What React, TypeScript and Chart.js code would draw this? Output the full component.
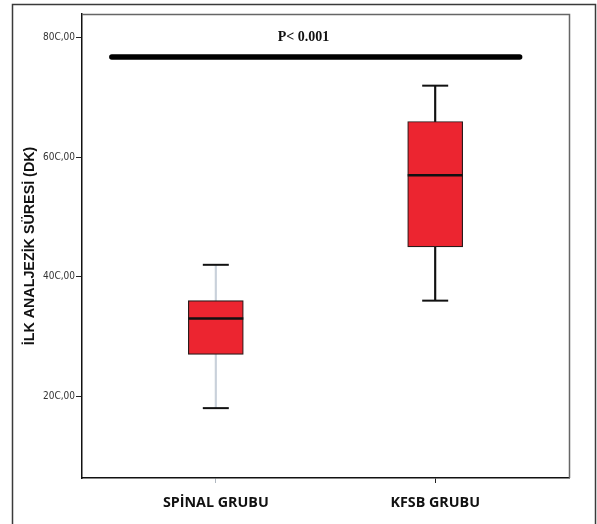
import React, { useEffect, useRef } from "react";
import { Chart, registerables } from "chart.js";

Chart.register(...registerables);

const CATEGORIES = ["SPİNAL GRUBU", "KFSB GRUBU"];
const GROUP_X = [1, 2];
const MIN = [18, 36];
const Q1 = [27, 45];
const MEDIAN = [33, 57];
const Q3 = [36, 66];
const MAX = [42, 72];
const Y_TICKS = [20, 40, 60, 80];
const Y_TICK_LABELS = ["20C,00", "40C,00", "60C,00", "80C,00"];
const Y_TITLE = "İLK ANALJEZİK SÜRESİ (DK)";
const SIG_X = [0.526, 2.385];
const SIG_Y = 76.8;
const SIG_LABEL = "P< 0.001";
const SIG_LABEL_POS = [1.4, 80];
const WHISKER_COLORS = ["#c9d1da", "#111111"];
const X_TICK_COLORS = ["#b0b8c0", "#222222"];

const framePlugin = {
  id: "frames",
  beforeDraw(chart: any) {
    const ctx = chart.ctx;
    ctx.save();
    ctx.strokeStyle = "#3a3a3a";
    ctx.lineWidth = 1.5;
    ctx.strokeRect(12.5, 4.5, 583, 540);
    ctx.restore();
  },
  afterDatasetsDraw(chart: any) {
    const ctx = chart.ctx;
    const { left, right, top, bottom } = chart.chartArea;
    ctx.save();
    ctx.strokeStyle = "#666";
    ctx.lineWidth = 1.5;
    ctx.beginPath();
    ctx.moveTo(left, top + 0.5);
    ctx.lineTo(right + 0.5, top + 0.5);
    ctx.lineTo(right + 0.5, bottom);
    ctx.stroke();
    const xs = chart.scales.x;
    const ys = chart.scales.y;
    ctx.fillStyle = "#111";
    ctx.font = "bold 14px 'Liberation Serif', serif";
    ctx.textAlign = "center";
    ctx.textBaseline = "middle";
    ctx.fillText(
      SIG_LABEL,
      xs.getPixelForValue(SIG_LABEL_POS[0]),
      ys.getPixelForValue(SIG_LABEL_POS[1])
    );
    ctx.restore();
  },
};

export default function App() {
  const ref = useRef<HTMLCanvasElement>(null);
  useEffect(() => {
    if (!ref.current) return;
    const chart = new Chart(ref.current, {
      type: "bar",
      data: {
        datasets: [
          {
            type: "bar",
            data: GROUP_X.map((x, i) => ({ x, y: [MIN[i], MAX[i]] })) as any,
            backgroundColor: WHISKER_COLORS,
            borderWidth: 0,
            barThickness: 1.5,
            grouped: false,
            order: 10,
          } as any,
          {
            type: "bar",
            data: GROUP_X.map((x, i) => ({ x, y: [Q1[i], Q3[i]] })) as any,
            backgroundColor: "#ec2530",
            borderColor: "#2a1a1a",
            borderWidth: 1.2,
            borderSkipped: false,
            barThickness: 55,
            grouped: false,
            order: 5,
          } as any,
          {
            type: "scatter",
            data: GROUP_X.map((x, i) => ({ x, y: MEDIAN[i] })),
            pointStyle: "line",
            pointRadius: 27.5,
            pointHoverRadius: 27.5,
            borderColor: "#111",
            borderWidth: 2.5,
            order: 1,
          } as any,
          {
            type: "scatter",
            data: [
              ...GROUP_X.map((x, i) => ({ x, y: MIN[i] })),
              ...GROUP_X.map((x, i) => ({ x, y: MAX[i] })),
            ],
            pointStyle: "line",
            pointRadius: 13,
            pointHoverRadius: 13,
            borderColor: "#111",
            borderWidth: 2,
            order: 1,
          } as any,
          {
            type: "line",
            data: SIG_X.map((x) => ({ x, y: SIG_Y })),
            borderColor: "#000",
            borderWidth: 5.5,
            borderCapStyle: "round",
            pointRadius: 0,
            order: 1,
          } as any,
        ],
      },
      options: {
        animation: false,
        responsive: false,
        events: [],
        layout: { autoPadding: false, padding: { top: 14, right: 28, left: 0, bottom: 0 } },
        plugins: { legend: { display: false }, tooltip: { enabled: false } },
        scales: {
          x: {
            type: "linear",
            min: 0.39,
            max: 2.61,
            offset: false,
            afterBuildTicks: (axis: any) => {
              axis.ticks = GROUP_X.map((v) => ({ value: v }));
            },
            afterFit: (scale: any) => {
              scale.height = 46;
            },
            ticks: {
              callback: (v: any) => CATEGORIES[GROUP_X.indexOf(Number(v))] ?? "",
              font: { family: "'Open Sans', sans-serif", size: 14.3, weight: "bold" },
              color: "#111",
              padding: 11,
              maxRotation: 0,
            },
            grid: {
              offset: false,
              drawOnChartArea: false,
              drawTicks: true,
              tickLength: 5,
              color: (c: any) => X_TICK_COLORS[c.index] ?? "#222",
            },
            border: { display: true, color: "#111", width: 1.5 },
          },
          y: {
            type: "linear",
            min: 6.3,
            max: 84,
            afterBuildTicks: (axis: any) => {
              axis.ticks = Y_TICKS.map((v) => ({ value: v }));
            },
            afterFit: (scale: any) => {
              scale.width = 82;
            },
            ticks: {
              callback: (v: any) => Y_TICK_LABELS[Y_TICKS.indexOf(Number(v))] ?? "",
              font: { family: "'Liberation Sans Narrow', 'DejaVu Sans Condensed', 'Liberation Sans', sans-serif", size: 10 },
              color: "#333",
              padding: 1,
            },
            grid: {
              drawOnChartArea: false,
              drawTicks: true,
              tickLength: 6,
              color: "#222",
            },
            border: { display: true, color: "#111", width: 1.5 },
            title: {
              display: true,
              text: Y_TITLE,
              font: { family: "'Liberation Sans', Arial, sans-serif", size: 14.3, weight: "bold" },
              color: "#111",
              padding: { top: 21, bottom: 0 },
            },
          },
        },
      },
      plugins: [framePlugin],
    });
    return () => chart.destroy();
  }, []);
  return (
    <div style={{ position: "absolute", left: 0, top: 0, width: 597, height: 524, background: "#fff" }}>
      <canvas ref={ref} width={597} height={524} />
    </div>
  );
}
